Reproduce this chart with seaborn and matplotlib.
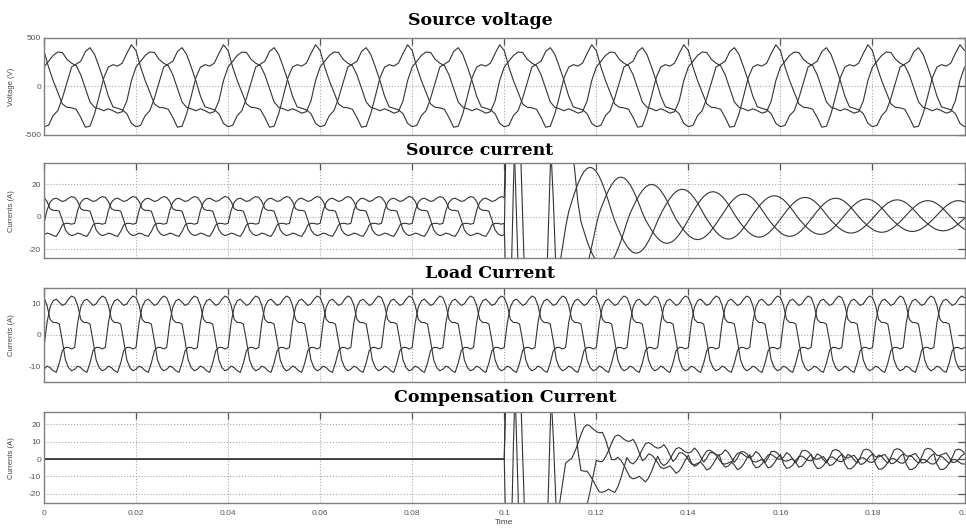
import numpy as np
import pandas as pd
import matplotlib
matplotlib.use("Agg")
import matplotlib.pyplot as plt
import seaborn as sns

# ---- data ----
# source voltage, one 20 ms cycle per phase at 1 ms steps (V)
volt_a = [370, 200, 60, -60, -180, -215, -220, -235, -320, -420,
          -410, -280, -100, 90, 200, 225, 210, 240, 340, 430]
volt_b = [-415, -400, -300, -250, -120, 40, 200, 230, 260, 360,
          400, 330, 200, 60, -100, -210, -225, -240, -280, -380]
volt_c = [200, 260, 320, 355, 350, 280, 240, 215, 120, -20,
          -160, -215, -230, -250, -230, -250, -275, -260, -150, 60]

# load current, one cycle of phase a at 30 samples (A); b, c lag 1/3 cycle
load_shape = [-4, 4, 9, 11, 11.5, 10.5, 9.5, 10, 11.5, 12.5,
              12, 9.5, 5, 4, 4, 3.5, -2, -8, -10.5, -11.5,
              -11, -10, -10.5, -11.5, -12, -9, -5, -4, -4, -4.5]

# source current after the filter starts at t = 0.1 s: switching transient
trans_a = [-4, -80, -60, 20, 80, 100, 100, 100, 100, 100, 100, 100,
           100, 100, 80, 50, 10, -40, -70, -65, -55, -48, -46]
trans_b = [-11, 90, 100, 60, 0, -60, -100, -100, -100, -100, -100, -100,
           -100, -80, -30, 30, 70, 90, 88, 82, 73, 60, 45, 28, 9, -3, -9,
           -15, -20, -24, -27, -29, -29.6]
trans_c = [12, 80, 100, 100, 90, 60, 0, -60, -100, -100, -100, -90, -65]
# then sinusoidal, one trough / peak per cycle (A)
trough_a = [-45, -16.3, -12.5, -10, -8.6]
peak_a = [24.5, 15.5, 12, 10.5, 10]
trough_b = [-30, -14, -12, -9.5]
peak_b = [20, 14, 11.5, 10]
trough_c = [-60, -22.4, -13.7, -10.8, -9]
peak_c = [30.5, 17, 13, 11, 10]
# shape of one sinusoid cycle starting at its trough, 30 samples
sine_shape = [-1, -.978, -.914, -.809, -.669, -.5, -.309, -.105, .105, .309,
              .5, .669, .809, .914, .978, 1, .978, .914, .809, .669,
              .5, .309, .105, -.105, -.309, -.5, -.669, -.809, -.914, -.978]

x_ticks = [0, 0.02, 0.04, 0.06, 0.08, 0.1, 0.12, 0.14, 0.16, 0.18, 0.2]
x_labels = ["0", "0.02", "0.04", "0.06", "0.08", "0.1", "0.12", "0.14",
            "0.16", "0.18", "0.2"]

# ---- build series ----
t_v = np.arange(201) * 0.001
t_i = np.arange(301) / 1500.0

va = np.tile(volt_a, 11)[:201]
vb = np.tile(volt_b, 11)[:201]
vc = np.tile(volt_c, 11)[:201]

la = np.tile(load_shape, 11)[:301]
lb = np.tile(np.roll(load_shape, 10), 11)[:301]
lc = np.tile(np.roll(load_shape, 20), 11)[:301]


def sine_cycles(troughs, peaks):
    out = []
    for c in range(len(troughs)):
        nxt = troughs[c + 1] if c + 1 < len(troughs) else troughs[c]
        for k, s in enumerate(sine_shape):
            if s >= 0:
                out.append(s * peaks[c])
            elif k < 15:
                out.append(s * abs(troughs[c]))
            else:
                out.append(s * abs(nxt))
    return out


sa = np.concatenate([la[:150], trans_a, sine_cycles(trough_a, peak_a)])[:301]
sb = np.concatenate([lb[:150], trans_b, sine_cycles(trough_b, peak_b)])[:301]
sc = np.concatenate([lc[:150], trans_c, sine_cycles(trough_c, peak_c)])[:301]

# compensation current = source - load
ca, cb, cc = sa - la, sb - lb, sc - lc


def long_df(t, series):
    return pd.DataFrame({
        "t": np.tile(t, len(series)),
        "val": np.concatenate(series),
        "phase": np.repeat(["a", "b", "c"], len(t)),
    })


# ---- figure ----
sns.set_style("white")
plt.rcParams["font.family"] = ["Liberation Sans", "DejaVu Sans"]
plt.rcParams["axes.unicode_minus"] = False

fig = plt.figure(figsize=(9.66, 5.31), dpi=100)
left, width = 0.0455, 0.953
rects = [(0.7458, 0.1827), (0.5136, 0.1789), (0.2812, 0.1759), (0.0522, 0.1714)]
axes = [fig.add_axes([left, b, width, h]) for b, h in rects]

panels = [
    (long_df(t_v, [va, vb, vc]), (-500, 500), [-500, 0, 500], "Voltage (V)"),
    (long_df(t_i, [sa, sb, sc]), (-25.5, 33), [-20, 0, 20], "Currents (A)"),
    (long_df(t_i, [la, lb, lc]), (-15, 15), [-10, 0, 10], "Currents (A)"),
    (long_df(t_i, [ca, cb, cc]), (-25.5, 27), [-20, -10, 0, 10, 20], "Currents (A)"),
]
line_col = "#333333"

for ax, (df, ylim, yticks, ylab) in zip(axes, panels):
    sns.lineplot(data=df, x="t", y="val", hue="phase", palette=[line_col] * 3,
                 legend=False, ax=ax, lw=0.8, estimator=None, sort=False)
    ax.set_xlim(0, 0.2)
    ax.set_ylim(*ylim)
    ax.set_yticks(yticks)
    ax.set_yticklabels([str(v) for v in yticks])
    ax.set_xticks(x_ticks)
    ax.grid(True, linestyle=":", color="#a8a8a8", linewidth=0.8)
    ax.tick_params(direction="in", length=5, width=0.9, colors="#555555",
                   labelsize=6, top=True, right=True, pad=2)
    for sp in ax.spines.values():
        sp.set_color("#808080")
        sp.set_linewidth(1.0)
    ax.set_ylabel(ylab, fontsize=5.5, color="#444444")
    ax.yaxis.set_label_coords(-0.031, 0.5)
    ax.set_xlabel("")
    if ax is axes[-1]:
        ax.set_xticklabels(x_labels)
        ax.tick_params(axis="x", pad=5)
        ax.set_xlabel("Time", fontsize=6, color="#444444", labelpad=1)
    else:
        ax.set_xticklabels([])

titles = [("Source voltage", 0.497, 0.953), ("Source current", 0.497, 0.708),
          ("Load Current", 0.507, 0.4765), ("Compensation Current", 0.523, 0.243)]
for txt, x, y in titles:
    fig.text(x, y, txt, ha="center", va="baseline", fontsize=12.5,
             fontweight="bold", family="DejaVu Serif", color="black")

fig.savefig("out.png", dpi=100, facecolor="white")
